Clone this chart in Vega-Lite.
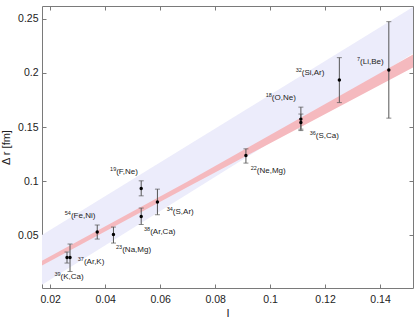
{
  "$schema": "https://vega.github.io/schema/vega-lite/v6.json",
  "width": 371,
  "height": 282,
  "autosize": {"type": "none"},
  "padding": {"left": 42, "top": 6, "right": 6, "bottom": 35},
  "background": "white",
  "config": {
    "view": {"stroke": null},
    "axis": {
      "domainColor": "#7a7a7a",
      "tickColor": "#7a7a7a",
      "tickSize": -4,
      "grid": false,
      "labelFont": "Liberation Sans",
      "labelFontSize": 10.5,
      "labelColor": "#222222",
      "titleFont": "Liberation Sans",
      "titleFontSize": 11,
      "titleFontWeight": "normal",
      "titleColor": "#222222"
    }
  },
  "datasets": {
    "blue": [
      {"x": 0.017, "lo": 0.004, "hi": 0.050},
      {"x": 0.152, "lo": 0.218, "hi": 0.261}
    ],
    "red": [
      {"x": 0.017, "lo": 0.0219, "hi": 0.0262},
      {"x": 0.070, "lo": 0.0944, "hi": 0.0996},
      {"x": 0.152, "lo": 0.205, "hi": 0.217}
    ],
    "points": [
      {"mass": "39", "pair": "(K,Ca)", "I": 0.0261, "dr": 0.0293, "lo": 0.0241, "hi": 0.0343, "lx": 0.02375, "ly": 0.0108},
      {"mass": "37", "pair": "(Ar,K)", "I": 0.0272, "dr": 0.0293, "lo": 0.0163, "hi": 0.0417, "lx": 0.03225, "ly": 0.0250},
      {"mass": "54", "pair": "(Fe,Ni)", "I": 0.0371, "dr": 0.0528, "lo": 0.0463, "hi": 0.0593, "lx": 0.02753, "ly": 0.0681},
      {"mass": "23", "pair": "(Na,Mg)", "I": 0.0430, "dr": 0.0506, "lo": 0.0426, "hi": 0.0574, "lx": 0.04618, "ly": 0.0364},
      {"mass": "19", "pair": "(F,Ne)", "I": 0.0531, "dr": 0.0931, "lo": 0.0863, "hi": 0.1002, "lx": 0.0440, "ly": 0.1079},
      {"mass": "38", "pair": "(Ar,Ca)", "I": 0.0531, "dr": 0.0672, "lo": 0.0598, "hi": 0.0750, "lx": 0.05636, "ly": 0.0531},
      {"mass": "34", "pair": "(S,Ar)", "I": 0.0590, "dr": 0.0805, "lo": 0.0688, "hi": 0.0925, "lx": 0.06462, "ly": 0.0718},
      {"mass": "22", "pair": "(Ne,Mg)", "I": 0.0912, "dr": 0.1236, "lo": 0.1166, "hi": 0.1298, "lx": 0.09515, "ly": 0.1095},
      {"mass": "18", "pair": "(O,Ne)", "I": 0.1112, "dr": 0.1573, "lo": 0.1467, "hi": 0.1684, "lx": 0.10062, "ly": 0.1767},
      {"mass": "36", "pair": "(S,Ca)", "I": 0.1112, "dr": 0.1541, "lo": 0.1480, "hi": 0.1620, "lx": 0.11662, "ly": 0.1418},
      {"mass": "32", "pair": "(Si,Ar)", "I": 0.1252, "dr": 0.1936, "lo": 0.1726, "hi": 0.2142, "lx": 0.11153, "ly": 0.1998},
      {"mass": "7", "pair": "(Li,Be)", "I": 0.1432, "dr": 0.2028, "lo": 0.1582, "hi": 0.2475, "lx": 0.13273, "ly": 0.2100}
    ]
  },
  "resolve": {"axis": {"x": "independent", "y": "independent"}},
  "layer": [
    {
      "data": {"name": "blue"},
      "mark": {"type": "area", "color": "#ececfb", "opacity": 1, "clip": true},
      "encoding": {
        "x": {"field": "x", "type": "quantitative",
              "scale": {"domain": [0.017, 0.152], "nice": false, "zero": false},
              "axis": {"orient": "bottom", "title": "I", "values": [0.02, 0.04, 0.06, 0.08, 0.1, 0.12, 0.14], "format": "~g", "labelPadding": 10, "titlePadding": 3}},
        "y": {"field": "lo", "type": "quantitative",
              "scale": {"domain": [0.001, 0.262], "nice": false, "zero": false},
              "axis": {"orient": "left", "title": "Δ r [fm]", "values": [0.05, 0.1, 0.15, 0.2, 0.25], "format": "~g", "labelPadding": 8, "titlePadding": 6}},
        "y2": {"field": "hi"}
      }
    },
    {
      "data": {"name": "red"},
      "mark": {"type": "area", "color": "#f5b9be", "opacity": 1, "clip": true},
      "encoding": {
        "x": {"field": "x", "type": "quantitative",
              "axis": {"orient": "top", "title": null, "labels": false, "values": [0.02, 0.04, 0.06, 0.08, 0.1, 0.12, 0.14]}},
        "y": {"field": "lo", "type": "quantitative",
              "axis": {"orient": "right", "title": null, "labels": false, "values": [0.05, 0.1, 0.15, 0.2, 0.25]}},
        "y2": {"field": "hi"}
      }
    },
    {
      "data": {"name": "points"},
      "mark": {"type": "rule", "color": "#555555", "strokeWidth": 1},
      "encoding": {
        "x": {"field": "I", "type": "quantitative", "axis": null},
        "y": {"field": "lo", "type": "quantitative", "axis": null},
        "y2": {"field": "hi"}
      }
    },
    {
      "data": {"name": "points"},
      "mark": {"type": "tick", "orient": "horizontal", "color": "#555555", "size": 5, "thickness": 1},
      "encoding": {
        "x": {"field": "I", "type": "quantitative", "axis": null},
        "y": {"field": "lo", "type": "quantitative", "axis": null}
      }
    },
    {
      "data": {"name": "points"},
      "mark": {"type": "tick", "orient": "horizontal", "color": "#555555", "size": 5, "thickness": 1},
      "encoding": {
        "x": {"field": "I", "type": "quantitative", "axis": null},
        "y": {"field": "hi", "type": "quantitative", "axis": null}
      }
    },
    {
      "data": {"name": "points"},
      "mark": {"type": "circle", "color": "black", "size": 12, "opacity": 1},
      "encoding": {
        "x": {"field": "I", "type": "quantitative", "axis": null},
        "y": {"field": "dr", "type": "quantitative", "axis": null}
      }
    },
    {
      "data": {"name": "points"},
      "mark": {"type": "text", "align": "left", "baseline": "middle", "font": "Liberation Sans", "fontSize": 8, "color": "#222222"},
      "encoding": {
        "x": {"field": "lx", "type": "quantitative", "axis": null},
        "y": {"field": "ly", "type": "quantitative", "axis": null},
        "text": {"field": "pair"}
      }
    },
    {
      "data": {"name": "points"},
      "mark": {"type": "text", "align": "right", "baseline": "middle", "font": "Liberation Sans", "fontSize": 5.5, "dy": -3, "color": "#222222"},
      "encoding": {
        "x": {"field": "lx", "type": "quantitative", "axis": null},
        "y": {"field": "ly", "type": "quantitative", "axis": null},
        "text": {"field": "mass"}
      }
    }
  ]
}
